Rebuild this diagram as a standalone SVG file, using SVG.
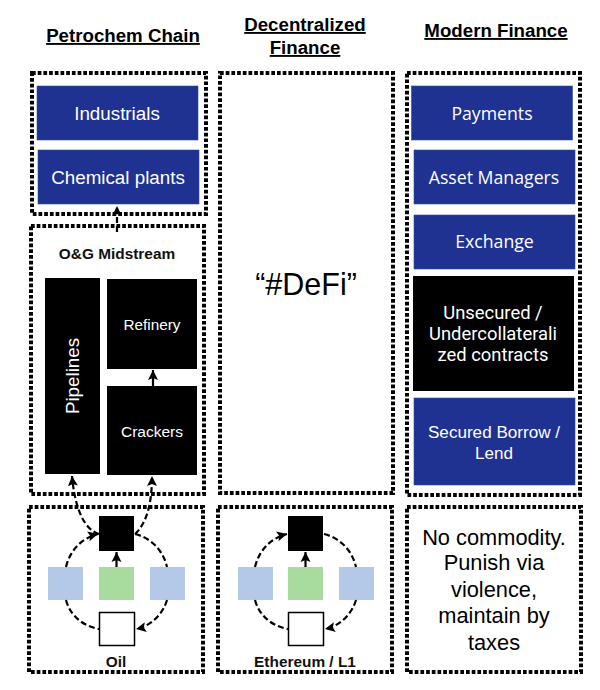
<svg xmlns="http://www.w3.org/2000/svg" width="600" height="690" viewBox="0 0 600 690">
<style>
text{font-family:"Liberation Sans",Arial,sans-serif;text-anchor:middle}
.t{font-size:18.7px;font-weight:bold;text-decoration:underline;fill:#000}
.frame{fill:none;stroke:#000;stroke-width:4;stroke-dasharray:3.7 2}
.blue{fill:#1f3292;stroke:#2f4aa0;stroke-width:.6}
.blk{fill:#000}
.lb{fill:#b4c9e8}
.gr{fill:#a8dc9f}
.wh{fill:#fff;stroke:#000;stroke-width:1.5}
.w{fill:#fff}
.os{font-family:"Open Sans","Noto Sans",sans-serif;font-size:17.7px}
.rb{font-family:Roboto,"Liberation Sans",sans-serif;font-size:18.4px}
.ls{font-size:18.8px}
.b{font-size:15.4px;font-weight:bold;fill:#111}
.big{font-size:21.8px;fill:#000}
.dash{fill:none;stroke:#000;stroke-width:2.2;stroke-dasharray:6 3}
.solid{fill:none;stroke:#000;stroke-width:2.2}
</style>
<defs>
<marker id="ah" markerUnits="userSpaceOnUse" markerWidth="12" markerHeight="12" refX="10" refY="6" orient="auto"><path d="M0 1L10 6L0 11L2 6Z" fill="#000"/></marker>
</defs>
<g id="titles">
<text class="t" x="123" y="42">Petrochem Chain</text>
<text class="t" x="305" y="31">Decentralized</text>
<text class="t" x="305" y="54">Finance</text>
<text class="t" x="496" y="37">Modern Finance</text>
</g>
<g id="frames">
<rect class="frame" x="32" y="73" width="174" height="141"/>
<rect class="frame" x="31" y="226" width="173" height="268"/>
<rect class="frame" x="29" y="507" width="174" height="165"/>
<rect class="frame" x="220" y="73" width="173" height="420"/>
<rect class="frame" x="218" y="507" width="174" height="165"/>
<rect class="frame" x="407" y="73" width="173" height="422"/>
<rect class="frame" x="407" y="507" width="174" height="165"/>
</g>
<g id="industrials"><rect class="blue" x="37" y="86" width="161" height="54"/><text class="w ls" x="117" y="120">Industrials</text></g>
<g id="chemical-plants"><rect class="blue" x="38" y="150" width="161" height="54"/><text class="w ls" x="118" y="184">Chemical plants</text></g>
<g id="midstream-label"><text class="b" x="117" y="259">O&amp;G Midstream</text></g>
<g id="pipelines"><rect class="blk" x="45" y="278" width="55" height="196"/><text class="w ls" transform="translate(79 376) rotate(-90)">Pipelines</text></g>
<g id="refinery"><rect class="blk" x="107" y="279" width="90" height="90"/><text class="w" style="font-size:15.3px" x="152" y="330">Refinery</text></g>
<g id="crackers"><rect class="blk" x="107" y="386" width="90" height="89"/><text class="w" style="font-size:15.5px" x="152" y="437">Crackers</text></g>
<g id="defi"><text x="306" y="295" style="font-size:30.5px;fill:#000">“#DeFi”</text></g>
<g id="payments"><rect class="blue" x="411.500" y="86" width="161" height="54"/><text class="w os" x="492" y="120">Payments</text></g>
<g id="asset-managers"><rect class="blue" x="414" y="150" width="161" height="54"/><text class="w os" x="494" y="183.500">Asset Managers</text></g>
<g id="exchange"><rect class="blue" x="414" y="215" width="161" height="54"/><text class="w os" x="494.500" y="248">Exchange</text></g>
<g id="unsecured"><rect class="blk" x="413" y="276" width="161" height="115"/><text class="w rb" x="493" y="319">Unsecured /</text><text class="w rb" x="493" y="340">Undercollaterali</text><text class="w rb" x="493" y="361">zed contracts</text></g>
<g id="secured"><rect class="blue" x="414" y="398" width="161" height="87"/><text class="w" style="font-size:17.1px" x="494" y="438">Secured Borrow /</text><text class="w" style="font-size:17.1px" x="494" y="459">Lend</text></g>
<g id="oil-cycle">
<rect class="blk" x="99" y="516" width="35" height="35"/>
<rect class="lb" x="48" y="567" width="35" height="33"/>
<rect class="gr" x="99" y="567" width="35" height="33"/>
<rect class="lb" x="150" y="567" width="35" height="33"/>
<rect class="wh" x="99.500" y="612.500" width="35" height="33"/>
<text class="b" x="116" y="667">Oil</text>
</g>
<g id="eth-cycle">
<rect class="blk" x="288" y="516" width="35" height="35"/>
<rect class="lb" x="238" y="567" width="35" height="33"/>
<rect class="gr" x="288" y="567" width="35" height="33"/>
<rect class="lb" x="339" y="567" width="35" height="33"/>
<rect class="wh" x="288.500" y="612.500" width="35" height="33"/>
<text class="b" x="305" y="667">Ethereum / L1</text>
</g>
<g id="no-commodity">
<text class="big" x="494" y="545">No commodity.</text>
<text class="big" x="494" y="570">Punish via</text>
<text class="big" x="494" y="597">violence,</text>
<text class="big" x="494" y="623">maintain by</text>
<text class="big" x="494" y="650">taxes</text>
</g>
<g id="connectors">
<path class="dash" d="M117 232V206" marker-end="url(#ah)"/>
<path class="solid" d="M153 386V370" marker-end="url(#ah)"/>
<path class="dash" d="M99 534C85 530 75 510 72 476" marker-end="url(#ah)"/>
<path class="dash" d="M135 534C146 524 152 505 152 476" marker-end="url(#ah)"/>
<path class="dash" d="M66 567C70 550 82 538 98 534" marker-end="url(#ah)"/>
<path class="dash" d="M135 534C151 538 163 550 167 567"/>
<path class="dash" d="M66 600C70 615 82 626 99 629"/>
<path class="dash" d="M167 600C163 614 151 626 136 629" marker-end="url(#ah)"/>
<path class="solid" d="M116.500 567V552" marker-end="url(#ah)"/>
<path class="dash" d="M255 567C259 550 271 538 287 534" marker-end="url(#ah)"/>
<path class="dash" d="M324 534C340 538 352 550 356 567"/>
<path class="dash" d="M255 600C259 615 271 626 288 629"/>
<path class="dash" d="M356 600C352 614 340 626 325 629" marker-end="url(#ah)"/>
<path class="solid" d="M305.500 567V552" marker-end="url(#ah)"/>
</g>
</svg>
